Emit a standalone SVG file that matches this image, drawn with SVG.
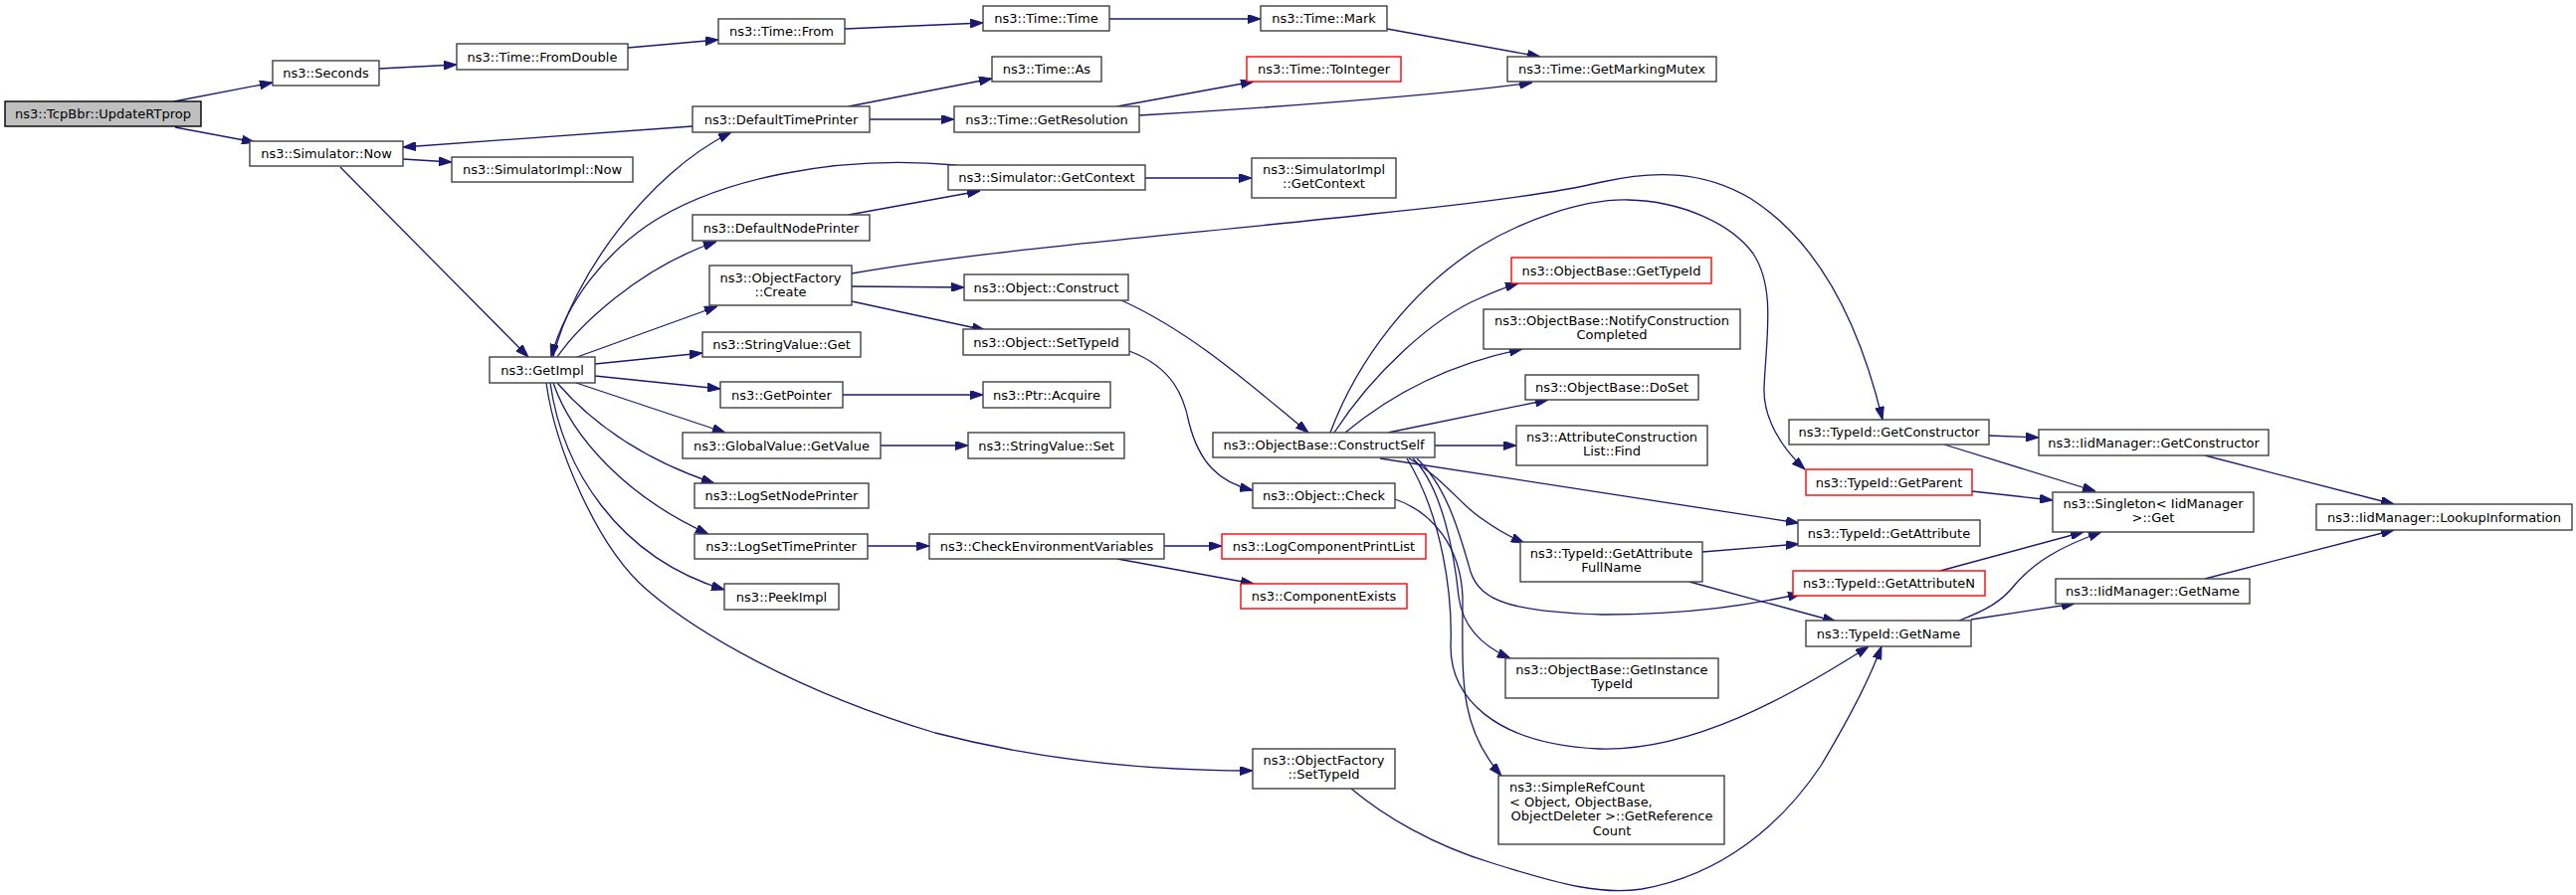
<svg xmlns="http://www.w3.org/2000/svg" width="2589" height="900" viewBox="0 0 2589 900">
<defs>
<marker id="a" markerWidth="13" markerHeight="9" refX="13" refY="4.5" orient="auto" markerUnits="userSpaceOnUse"><path d="M0,0 L13,4.5 L0,9 z" fill="#191970" stroke="#191970" stroke-width="1"/></marker>
<style>
.n rect{fill:#fff;stroke:#404040;stroke-width:1.4}
.r rect{stroke:#f00}
.root rect{fill:#bfbfbf;stroke:#000}
text{font-family:"DejaVu Sans",sans-serif;font-size:13px;text-anchor:middle;fill:#000}
text.l{text-anchor:start}
.e path{fill:none;stroke:#191970;stroke-width:1.3;marker-end:url(#a)}
</style>
</defs>
<rect width="2589" height="900" fill="#fff"/>
<g id="edges" class="e">
<path d="M175,102 L274,83"/>
<path d="M176,128 L256,143"/>
<path d="M381,69 L459,65"/>
<path d="M631,48 L722,40"/>
<path d="M849,29 L988,23"/>
<path d="M1115,19 L1267,19"/>
<path d="M1394,29 L1548,57"/>
<path d="M853,107 L997,79"/>
<path d="M874,120 L959,120"/>
<path d="M1123,107 L1260,82"/>
<path d="M1145,116 C1250,110 1450,96 1540,83"/>
<path d="M696,127 L405,148"/>
<path d="M405,160 L454,163"/>
<path d="M342,168 L531,359"/>
<path d="M556,359 C575,280 650,175 735,133"/>
<path d="M961,166 C840,155 720,180 650,227 C610,255 570,300 554,359"/>
<path d="M560,359 C580,330 640,270 720,243"/>
<path d="M853,216 L985,192"/>
<path d="M1151,179 L1258,179"/>
<path d="M580,359 L721,308"/>
<path d="M598,366 L706,355"/>
<path d="M598,378 L724,391"/>
<path d="M579,385 L729,435"/>
<path d="M560,385 C590,420 640,460 718,486"/>
<path d="M556,385 C575,440 630,500 712,537"/>
<path d="M553,385 C565,470 620,560 728,593"/>
<path d="M549,385 C558,450 600,550 650,593 C700,636 800,695 940,737 C1040,763 1150,775 1259,775"/>
<path d="M856,288 L969,289"/>
<path d="M856,303 L990,332"/>
<path d="M856,275 C1000,250 1200,235 1380,215 C1480,205 1560,195 1610,183 C1660,172 1710,170 1760,200 C1830,245 1870,330 1892,422"/>
<path d="M1127,302 C1200,335 1260,390 1315,435"/>
<path d="M1135,353 C1180,370 1190,400 1195,425 C1205,465 1225,485 1259,493"/>
<path d="M847,397 L988,397"/>
<path d="M885,448 L973,448"/>
<path d="M872,549 L934,549"/>
<path d="M1170,549 L1228,549"/>
<path d="M1123,562 L1260,587"/>
<path d="M1341,435 C1380,375 1440,320 1487,300 C1500,294 1512,289 1526,285"/>
<path d="M1337,435 C1365,360 1420,290 1487,248 C1530,222 1590,200 1636,201 C1690,202 1740,225 1762,255 C1785,290 1775,340 1773,390 C1772,420 1790,450 1814,472"/>
<path d="M1352,435 C1400,395 1460,365 1530,351"/>
<path d="M1395,435 L1556,402"/>
<path d="M1442,448 L1524,448"/>
<path d="M1387,461 L1808,526"/>
<path d="M1416,461 C1450,480 1470,510 1490,522 C1505,533 1518,540 1532,546"/>
<path d="M1424,461 C1455,490 1468,540 1478,575 C1488,605 1520,615 1611,618 C1700,618 1760,608 1810,597"/>
<path d="M1420,461 C1450,490 1462,560 1466,600 C1470,630 1490,650 1518,662"/>
<path d="M1402,502 C1440,515 1468,550 1470,600 C1470,680 1465,730 1509,780"/>
<path d="M1414,461 C1450,520 1460,600 1458,650 C1458,700 1500,748 1607,753 C1700,756 1800,700 1878,650"/>
<path d="M1711,555 L1808,547"/>
<path d="M1698,585 L1845,625"/>
<path d="M1999,438 L2049,440"/>
<path d="M1954,447 L2106,494"/>
<path d="M1982,494 L2063,503"/>
<path d="M1950,574 L2094,535"/>
<path d="M1969,624 C1995,614 2012,605 2025,588 C2045,565 2070,550 2112,535"/>
<path d="M1981,623 L2085,607"/>
<path d="M2216,458 L2406,507"/>
<path d="M2216,582 L2406,533"/>
<path d="M1358,793 C1390,820 1440,850 1500,868 C1570,890 1610,900 1650,894 C1730,880 1790,830 1830,770 C1860,720 1880,680 1891,650"/>
</g>
<g id="n_tcpbbr" class="n root"><rect x="5" y="102" width="197" height="25"/><text x="103.5" y="119">ns3::TcpBbr::UpdateRTprop</text></g>
<g id="n_seconds" class="n"><rect x="274" y="61" width="107" height="25"/><text x="327.5" y="78">ns3::Seconds</text></g>
<g id="n_fromdouble" class="n"><rect x="459" y="44" width="172" height="26"/><text x="545" y="61.5">ns3::Time::FromDouble</text></g>
<g id="n_simnow" class="n"><rect x="251" y="142" width="154" height="25"/><text x="328" y="159">ns3::Simulator::Now</text></g>
<g id="n_simimplnow" class="n"><rect x="454" y="158" width="182" height="25"/><text x="545" y="175">ns3::SimulatorImpl::Now</text></g>
<g id="n_timefrom" class="n"><rect x="722" y="19" width="127" height="25"/><text x="785.5" y="36">ns3::Time::From</text></g>
<g id="n_timetime" class="n"><rect x="988" y="6" width="127" height="25"/><text x="1051.5" y="23">ns3::Time::Time</text></g>
<g id="n_timemark" class="n"><rect x="1267" y="6" width="127" height="25"/><text x="1330.5" y="23">ns3::Time::Mark</text></g>
<g id="n_timeas" class="n"><rect x="997" y="57" width="110" height="25"/><text x="1052" y="74">ns3::Time::As</text></g>
<g id="n_toint" class="n r"><rect x="1253" y="57" width="155" height="25"/><text x="1330.5" y="74">ns3::Time::ToInteger</text></g>
<g id="n_mutex" class="n"><rect x="1515" y="57" width="210" height="25"/><text x="1620" y="74">ns3::Time::GetMarkingMutex</text></g>
<g id="n_dtp" class="n"><rect x="696" y="107" width="178" height="26"/><text x="785" y="124.5">ns3::DefaultTimePrinter</text></g>
<g id="n_getres" class="n"><rect x="959" y="107" width="186" height="26"/><text x="1052" y="124.5">ns3::Time::GetResolution</text></g>
<g id="n_getctx" class="n"><rect x="953" y="166" width="198" height="25"/><text x="1052" y="183">ns3::Simulator::GetContext</text></g>
<g id="n_implctx" class="n"><rect x="1258" y="159" width="145" height="40"/><text x="1330.5" y="175">ns3::SimulatorImpl</text><text x="1330.5" y="189">::GetContext</text></g>
<g id="n_dnp" class="n"><rect x="696" y="216" width="178" height="26"/><text x="785" y="233.5">ns3::DefaultNodePrinter</text></g>
<g id="n_ofcreate" class="n"><rect x="713" y="267" width="143" height="40"/><text x="784.5" y="284">ns3::ObjectFactory</text><text x="784.5" y="298">::Create</text></g>
<g id="n_objconstruct" class="n"><rect x="969" y="276" width="165" height="26"/><text x="1051.5" y="293.5">ns3::Object::Construct</text></g>
<g id="n_obtypeid" class="n r"><rect x="1519" y="259" width="201" height="26"/><text x="1619.5" y="276.5">ns3::ObjectBase::GetTypeId</text></g>
<g id="n_getimpl" class="n"><rect x="492" y="359" width="106" height="26"/><text x="545" y="376.5">ns3::GetImpl</text></g>
<g id="n_svget" class="n"><rect x="706" y="334" width="159" height="25"/><text x="785.5" y="351">ns3::StringValue::Get</text></g>
<g id="n_objsettid" class="n"><rect x="968" y="331" width="167" height="26"/><text x="1051.5" y="348.5">ns3::Object::SetTypeId</text></g>
<g id="n_notify" class="n"><rect x="1491" y="311" width="258" height="40"/><text x="1620" y="327">ns3::ObjectBase::NotifyConstruction</text><text x="1620" y="341">Completed</text></g>
<g id="n_getptr" class="n"><rect x="724" y="384" width="123" height="26"/><text x="785.5" y="401.5">ns3::GetPointer</text></g>
<g id="n_ptracq" class="n"><rect x="988" y="384" width="128" height="26"/><text x="1052" y="401.5">ns3::Ptr::Acquire</text></g>
<g id="n_doset" class="n"><rect x="1533" y="377" width="174" height="25"/><text x="1620" y="394">ns3::ObjectBase::DoSet</text></g>
<g id="n_gvget" class="n"><rect x="686" y="435" width="199" height="26"/><text x="785.5" y="452.5">ns3::GlobalValue::GetValue</text></g>
<g id="n_svset" class="n"><rect x="973" y="435" width="157" height="26"/><text x="1051.5" y="452.5">ns3::StringValue::Set</text></g>
<g id="n_cself" class="n"><rect x="1219" y="435" width="223" height="25"/><text x="1330.5" y="452">ns3::ObjectBase::ConstructSelf</text></g>
<g id="n_find" class="n"><rect x="1524" y="428" width="192" height="40"/><text x="1620" y="444">ns3::AttributeConstruction</text><text x="1620" y="458">List::Find</text></g>
<g id="n_getctor" class="n"><rect x="1798" y="422" width="201" height="25"/><text x="1898.5" y="439">ns3::TypeId::GetConstructor</text></g>
<g id="n_iidctor" class="n"><rect x="2049" y="432" width="231" height="26"/><text x="2164.5" y="449.5">ns3::IidManager::GetConstructor</text></g>
<g id="n_getparent" class="n r"><rect x="1815" y="472" width="167" height="26"/><text x="1898.5" y="489.5">ns3::TypeId::GetParent</text></g>
<g id="n_lsnp" class="n"><rect x="698" y="486" width="175" height="25"/><text x="785.5" y="503">ns3::LogSetNodePrinter</text></g>
<g id="n_check" class="n"><rect x="1259" y="486" width="143" height="25"/><text x="1330.5" y="503">ns3::Object::Check</text></g>
<g id="n_singleton" class="n"><rect x="2063" y="495" width="202" height="40"/><text x="2164" y="511">ns3::Singleton&lt; IidManager</text><text x="2164" y="525">&gt;::Get</text></g>
<g id="n_lookup" class="n"><rect x="2328" y="507" width="257" height="26"/><text x="2456.5" y="524.5">ns3::IidManager::LookupInformation</text></g>
<g id="n_getattr" class="n"><rect x="1807" y="523" width="183" height="26"/><text x="1898.5" y="540.5">ns3::TypeId::GetAttribute</text></g>
<g id="n_lstp" class="n"><rect x="698" y="537" width="174" height="25"/><text x="785" y="554">ns3::LogSetTimePrinter</text></g>
<g id="n_checkenv" class="n"><rect x="934" y="537" width="236" height="25"/><text x="1052" y="554">ns3::CheckEnvironmentVariables</text></g>
<g id="n_lcpl" class="n r"><rect x="1228" y="537" width="205" height="25"/><text x="1330.5" y="554">ns3::LogComponentPrintList</text></g>
<g id="n_fullname" class="n"><rect x="1528" y="545" width="183" height="40"/><text x="1619.5" y="561">ns3::TypeId::GetAttribute</text><text x="1619.5" y="575">FullName</text></g>
<g id="n_getattrn" class="n r"><rect x="1802" y="574" width="193" height="25"/><text x="1898.5" y="591">ns3::TypeId::GetAttributeN</text></g>
<g id="n_iidname" class="n"><rect x="2066" y="582" width="195" height="25"/><text x="2163.5" y="599">ns3::IidManager::GetName</text></g>
<g id="n_peek" class="n"><rect x="728" y="587" width="115" height="26"/><text x="785.5" y="604.5">ns3::PeekImpl</text></g>
<g id="n_cexists" class="n r"><rect x="1247" y="587" width="167" height="25"/><text x="1330.5" y="604">ns3::ComponentExists</text></g>
<g id="n_getname" class="n"><rect x="1815" y="624" width="166" height="26"/><text x="1898" y="641.5">ns3::TypeId::GetName</text></g>
<g id="n_insttid" class="n"><rect x="1513" y="662" width="214" height="40"/><text x="1620" y="678">ns3::ObjectBase::GetInstance</text><text x="1620" y="692">TypeId</text></g>
<g id="n_ofsettid" class="n"><rect x="1259" y="753" width="143" height="40"/><text x="1330.5" y="769">ns3::ObjectFactory</text><text x="1330.5" y="783">::SetTypeId</text></g>
<g id="n_refcount" class="n"><rect x="1506" y="780" width="227" height="69"/><text class="l" x="1517" y="796">ns3::SimpleRefCount</text><text class="l" x="1517" y="811">&lt; Object, ObjectBase,</text><text x="1620" y="825"> ObjectDeleter &gt;::GetReference</text><text x="1620" y="840">Count</text></g>
</svg>
